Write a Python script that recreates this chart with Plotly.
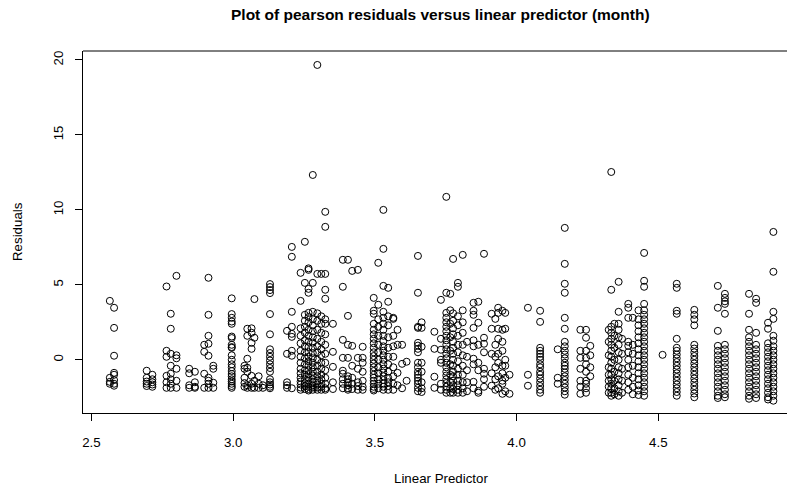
import plotly.graph_objects as go

# Linear predictor values (column positions) and pearson residuals in each column
col_x = [2.565, 2.58, 2.695, 2.715, 2.765, 2.78, 2.80, 2.845, 2.865, 2.898, 2.913, 2.93,
         2.995, 3.04, 3.05, 3.065, 3.075, 3.09, 3.105, 3.13, 3.19, 3.207,
         3.238, 3.253, 3.266, 3.281, 3.297, 3.311, 3.325, 3.352,
         3.387, 3.405, 3.42, 3.44, 3.457,
         3.496, 3.512, 3.53, 3.547, 3.565, 3.58, 3.596, 3.612,
         3.652, 3.665,
         3.71, 3.733, 3.752, 3.766, 3.776, 3.793, 3.81, 3.825,
         3.848, 3.865, 3.885,
         3.912, 3.925, 3.935, 3.95, 3.96, 3.975,
         4.04, 4.083, 4.145, 4.17,
         4.225, 4.245, 4.26,
         4.325, 4.334, 4.345, 4.36, 4.372,
         4.394, 4.41, 4.43, 4.45,
         4.515, 4.565, 4.627, 4.71, 4.735, 4.82, 4.845, 4.887, 4.906]

col_res = [
    [3.93, -1.2, -1.47, -1.6],
    [3.47, 2.13, 0.27, -0.87, -1.0, -1.35, -1.6, -1.73],
    [-0.73, -1.2, -1.45, -1.6, -1.75],
    [-1.0, -1.3, -1.5, -1.65, -1.8],
    [4.89, 0.6, 0.2, -1.07, -1.5, -1.87],
    [3.07, 2.07, 0.4, -0.4, -0.93, -1.3, -1.6, -1.87],
    [5.6, 0.3, 0.1, -0.6, -1.4, -1.87],
    [-0.6, -0.9, -1.7, -1.87],
    [-0.8, -1.5, -1.8, -1.87],
    [1.0, 0.53, -0.93, -1.87],
    [5.47, 3.0, 1.6, 1.07, 0.27, -1.2, -1.4, -1.6, -1.87],
    [-0.4, -0.6, -1.53, -1.87],
    [4.1, 3.05, 2.8, 2.55, 2.4, 1.55, 1.45, 1.0, 0.85, 0.8, 0.3, 0.0, -0.3, -0.5,
     -0.75, -0.95, -1.1, -1.3, -1.45, -1.6, -1.75, -1.87],
    [-0.4, -0.6, -1.2, -1.55, -1.8],
    [2.07, 1.6, 0.07, -0.53, -0.8, -1.7, -1.87],
    [2.1, 1.8, 1.13, 0.73, -1.07, -1.6, -1.87],
    [4.05, 1.47, -1.4, -1.87],
    [-1.1, -1.6, -1.87],
    [-1.7, -1.87],
    [5.05, 4.85, 4.65, 4.45, 3.05, 1.7, 0.7, 0.45, 0.2, -0.05, -0.3, -0.55, -0.8,
     -1.3, -1.5, -1.65, -1.8, -1.9],
    [1.93, 0.4, -1.5, -1.7, -1.87],
    [7.53, 6.87, 3.2, 2.2, 1.73, 1.53, 0.6, 0.27, -1.9],
    [5.8, 3.93, 2.1, 1.6, 1.1, 0.6, 0.2, -0.2, -0.6, -0.9, -1.2, -1.45, -1.65, -1.85, -2.0],
    [7.87, 5.13, 3.0, 2.6, 2.2, 1.8, 1.3, 0.9, 0.5, 0.1, -0.3, -0.7, -1.0, -1.3, -1.55,
     -1.75, -1.95],
    [6.1, 6.0, 4.73, 4.47, 3.13, 2.85, 2.5, 2.0, 1.6, 1.2, 0.85, 0.5, 0.2, -0.1, -0.4,
     -0.7, -0.95, -1.2, -1.4, -1.6, -1.8, -1.95, -2.05],
    [12.33, 5.13, 3.2, 2.7, 2.3, 1.9, 1.5, 1.15, 0.8, 0.45, 0.1, -0.2, -0.5, -0.8, -1.05,
     -1.3, -1.5, -1.7, -1.85, -2.0],
    [19.67, 5.73, 3.1, 2.6, 2.0, 1.4, 0.9, 0.5, 0.0, -0.4, -0.8, -1.1, -1.4, -1.65,
     -1.85, -2.0],
    [5.73, 2.9, 2.4, 1.8, 1.2, 0.7, 0.3, -0.2, -0.6, -1.0, -1.3, -1.6, -1.8, -2.0],
    [9.87, 8.87, 5.73, 4.67, 4.07, 2.7, 2.4, 1.7, 1.0, 0.4, -0.2, -0.7, -1.2, -1.6,
     -1.9, -2.0],
    [2.4, 0.53, -0.47, -1.5, -1.95],
    [6.67, 4.87, 1.33, 0.13, -0.73, -0.93, -1.3, -1.6, -1.9],
    [6.67, 2.93, 1.0, 0.13, -1.1, -1.3, -1.5, -1.7, -1.9, -2.0],
    [5.93, 0.93, -0.4, -1.2, -1.6, -1.95],
    [6.0, 0.13, -0.6, -1.5, -1.75, -2.0],
    [0.87, 0.13, -0.2, -0.8, -1.4, -1.8, -2.0],
    [4.13, 3.27, 3.07, 2.4, 2.0, 1.7, 1.4, 1.1, 0.8, 0.5, 0.25, 0.0, -0.25, -0.5,
     -0.75, -1.0, -1.2, -1.4, -1.6, -1.8, -1.95, -2.05],
    [6.47, 3.67, 2.7, 2.2, 1.6, 1.0, 0.5, 0.0, -0.5, -0.9, -1.3, -1.6, -1.9],
    [10.0, 7.4, 4.93, 3.2, 2.8, 2.4, 2.0, 1.6, 1.25, 0.9, 0.6, 0.3, 0.0, -0.3, -0.6,
     -0.85, -1.1, -1.35, -1.6, -1.8, -2.0],
    [4.8, 3.87, 2.9, 2.3, 1.5, 0.8, 0.2, -0.3, -0.8, -1.2, -1.5, -1.75, -2.0],
    [2.8, 2.73, 1.6, 0.9, 0.2, -0.5, -1.1, -1.6, -2.0],
    [2.0, 1.0, -0.87, -1.7],
    [1.0, -0.27, -1.9],
    [-0.13, -1.4],
    [6.93, 4.47, 2.2, 2.13, 1.13, 0.95, 0.73, 0.5, -0.2, -0.5, -0.8, -1.0, -1.2, -1.4,
     -1.6, -1.87, -2.1],
    [2.5, 2.13, 0.87, -0.2, -0.8, -1.5, -1.9, -2.15],
    [1.87, 0.73, -1.13, -1.87],
    [4.0, 1.4, 0.67, 0.0, -0.2, -1.6, -2.0],
    [10.87, 4.47, 3.13, 2.8, 2.5, 2.2, 1.9, 1.6, 1.3, 1.0, 0.7, 0.4, 0.1, -0.2, -0.5,
     -0.8, -1.05, -1.3, -1.55, -1.8, -2.0, -2.2],
    [4.4, 3.3, 2.4, 1.5, 0.6, -0.3, -1.0, -1.5, -1.9, -2.2],
    [6.73, 3.1, 2.6, 2.1, 1.7, 1.2, 0.8, 0.4, 0.0, -0.4, -0.8, -1.1, -1.4, -1.7,
     -1.95, -2.2],
    [5.13, 4.87, 2.9, 2.3, 1.6, 1.0, 0.5, -0.1, -0.6, -1.0, -1.4, -1.7, -2.0, -2.2],
    [7.0, 3.3, 2.5, 1.8, 1.0, 0.3, -0.4, -1.0, -1.5, -1.9, -2.2],
    [1.2, 0.2, -0.7, -1.5, -2.1],
    [3.8, 3.27, 3.0, 2.13, 1.3, 0.9, 0.07, -0.3, -1.47, -1.9],
    [3.87, 2.47, 1.0, -0.2, -0.7, -2.07, -2.2],
    [7.07, 1.47, 1.07, 0.5, -0.6, -0.93, -1.3, -1.8],
    [3.07, 2.07, 0.4, -0.9, -1.73],
    [2.73, 1.0, 0.2, -0.5, -1.3, -2.0],
    [3.47, 3.13, 2.07, 1.4, 0.4, -0.2, -1.1, -1.9],
    [3.27, 2.0, 1.2, 0.6, -0.4, -0.9, -1.4, -1.6, -2.27],
    [3.13, 2.07, 0.0, -0.4, -1.2, -2.1],
    [-1.0, -2.27],
    [3.47, -1.0, -1.73],
    [3.27, 2.53, 0.8, 0.6, 0.4, 0.2, 0.0, -0.3, -0.5, -0.8, -1.0, -1.25, -1.5, -1.75,
     -2.0, -2.2],
    [0.7, -1.2, -1.6],
    [8.8, 6.4, 5.07, 4.47, 2.8, 2.07, 1.2, 0.9, 0.6, 0.35, 0.1, -0.2, -0.4, -0.6, -0.85,
     -1.1, -1.35, -1.6, -1.85, -2.1, -2.33],
    [2.0, 0.6, 0.13, -0.6, -1.4, -1.8, -2.27],
    [2.0, 1.47, 0.6, 0.13, -0.3, -0.8, -1.4, -1.6, -1.9, -2.2],
    [0.93, 0.3, -0.5, -1.1],
    [2.0, 1.2, 0.3, -0.5, -1.0, -1.4, -1.8, -2.2],
    [12.53, 4.67, 2.2, 1.8, 1.4, 1.0, 0.6, 0.2, -0.2, -0.6, -1.0, -1.3, -1.6, -1.9,
     -2.2, -2.4],
    [2.4, 1.6, 0.8, 0.0, -0.8, -1.4, -1.9, -2.3],
    [5.2, 3.2, 2.4, 2.0, 1.5, 1.0, 0.5, 0.0, -0.5, -0.9, -1.3, -1.7, -2.1, -2.4],
    [1.4, 0.4, -0.6, -1.4, -2.2],
    [3.73, 3.47, 2.8, 1.2, 0.93, 0.5, 0.0, -0.5, -1.0, -1.5, -2.0],
    [2.8, 1.0, 0.4, -0.4, -1.2, -1.8, -2.3],
    [3.3, 2.7, 2.3, 1.9, 1.5, 1.1, 0.7, 0.3, -0.1, -0.5, -0.9, -1.3, -1.7, -2.05, -2.35],
    [7.13, 5.27, 4.87, 3.73, 3.3, 3.0, 2.7, 2.4, 2.1, 1.8, 1.5, 1.2, 0.9, 0.6, 0.3, 0.0,
     -0.3, -0.6, -0.9, -1.2, -1.5, -1.8, -2.1, -2.4],
    [0.33],
    [5.07, 4.8, 3.27, 3.07, 1.4, 0.8, 0.6, 0.35, 0.1, -0.15, -0.4, -0.65, -0.9, -1.15,
     -1.4, -1.65, -1.9, -2.15, -2.4],
    [3.33, 3.0, 2.7, 2.3, 1.0, 0.75, 0.5, 0.25, 0.0, -0.25, -0.5, -0.75, -1.0, -1.25,
     -1.5, -1.75, -2.0, -2.25, -2.5],
    [4.93, 3.47, 1.93, 0.93, 0.6, 0.3, 0.0, -0.3, -0.6, -0.9, -1.2, -1.5, -1.8, -2.1,
     -2.4, -2.55],
    [4.4, 4.13, 3.9, 3.73, 3.07, 1.0, 0.7, 0.4, 0.1, -0.2, -0.5, -0.8, -1.1, -1.4, -1.7,
     -2.0, -2.3, -2.5],
    [4.4, 3.07, 2.0, 1.5, 1.2, 0.9, 0.6, 0.3, 0.0, -0.3, -0.6, -0.9, -1.2, -1.5, -1.8,
     -2.1, -2.4, -2.6],
    [4.07, 3.8, 1.8, 1.0, 0.7, 0.4, 0.1, -0.2, -0.5, -0.8, -1.1, -1.4, -1.7, -2.0, -2.3,
     -2.55],
    [2.47, 2.07, 1.1, 0.8, 0.5, 0.2, -0.1, -0.4, -0.7, -1.0, -1.3, -1.6, -1.9, -2.2,
     -2.5, -2.65],
    [8.53, 5.87, 3.2, 2.73, 1.6, 1.27, 0.9, 0.6, 0.3, 0.0, -0.3, -0.6, -0.9, -1.2, -1.5,
     -1.8, -2.1, -2.4, -2.73],
]

x_ticks = [2.5, 3.0, 3.5, 4.0, 4.5]
x_tick_labels = ["2.5", "3.0", "3.5", "4.0", "4.5"]
y_ticks = [0, 5, 10, 15, 20]
y_tick_labels = ["0", "5", "10", "15", "20"]

title_text = "Plot of pearson residuals versus linear predictor (month)"
x_title = "Linear Predictor"
y_title = "Residuals"

lp = []
res = []
for xv, rv in zip(col_x, col_res):
    lp.extend([xv] * len(rv))
    res.extend(rv)

W, H = 787, 489
L, R, T, B = 83, 0, 51, 76
FONT = "Liberation Sans, Arial, Helvetica, sans-serif"
FS = 13.3

fig = go.Figure()
fig.add_trace(go.Scatter(
    x=lp, y=res, mode="markers",
    marker=dict(symbol="circle-open", size=7, color="black", line=dict(width=1, color="black")),
    hoverinfo="x+y", showlegend=False,
))

pw = W - L - R
def px_to_paper(px):
    return (px - L) / pw

fig.update_layout(
    width=W, height=H,
    margin=dict(l=L, r=R, t=T, b=B, pad=0),
    paper_bgcolor="white", plot_bgcolor="white",
    font=dict(family=FONT, size=FS, color="black"),
    xaxis=dict(
        range=[2.4703, 4.954], showgrid=False, zeroline=False,
        showline=True, linecolor="black", linewidth=1,
        ticks="outside", ticklen=7, tickwidth=1, tickcolor="black",
        tickvals=x_ticks, ticktext=x_tick_labels,
        tickfont=dict(size=FS, family=FONT), ticklabelstandoff=10,
    ),
    yaxis=dict(
        range=[-3.55, 20.6], showgrid=False, zeroline=False,
        showline=True, linecolor="black", linewidth=1,
        ticks="outside", ticklen=7, tickwidth=1, tickcolor="black",
        tickvals=y_ticks, ticktext=y_tick_labels, tickangle=-90,
        tickfont=dict(size=FS, family=FONT), ticklabelstandoff=7,
    ),
    shapes=[dict(type="line", xref="paper", yref="paper", x0=0, x1=1, y0=1, y1=1,
                 line=dict(color="black", width=1))],
    annotations=[
        dict(text="<b>" + title_text + "</b>", xref="paper", yref="paper",
             x=px_to_paper(440.5), y=1, yshift=37, showarrow=False,
             xanchor="center", yanchor="middle", font=dict(size=15.5, family=FONT)),
        dict(text=x_title, xref="paper", yref="paper",
             x=px_to_paper(440.5), y=0, yshift=-65, showarrow=False,
             xanchor="center", yanchor="middle", font=dict(size=FS, family=FONT)),
        dict(text=y_title, xref="paper", yref="paper",
             x=0, xshift=-66, y=0.5, showarrow=False, textangle=-90,
             xanchor="center", yanchor="middle", font=dict(size=FS, family=FONT)),
    ],
)

fig.write_html("out.html")
